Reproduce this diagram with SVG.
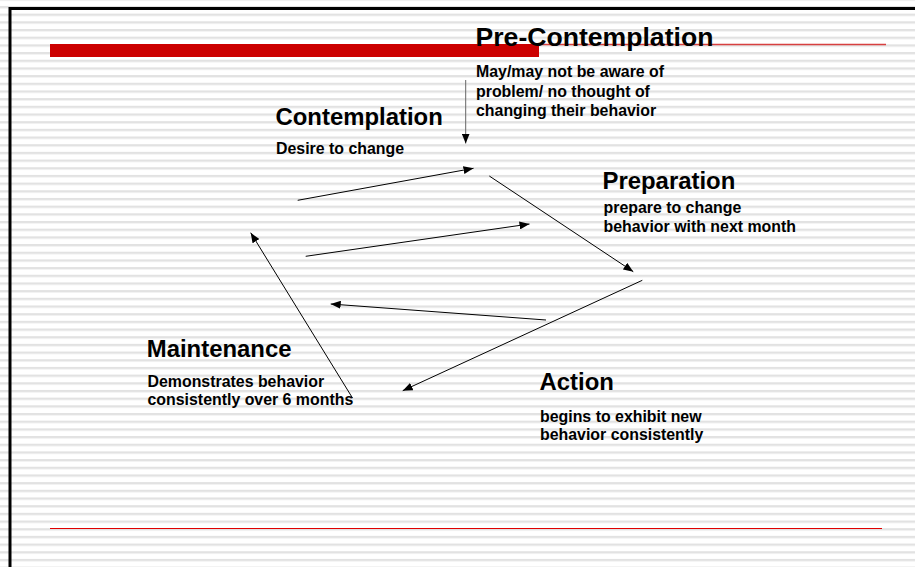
<svg xmlns="http://www.w3.org/2000/svg" width="915" height="567" viewBox="0 0 915 567">
  <defs>
    <pattern id="stripes" patternUnits="userSpaceOnUse" x="0" y="5.94" width="915" height="7.68">
      <rect x="0" y="0" width="915" height="7.68" fill="#ffffff"/>
      <rect x="0" y="0" width="915" height="2" fill="#e2e2e2"/>
      <rect x="0" y="2" width="915" height="0.8" fill="#f0f0f0"/>
    </pattern>
    <marker id="arr" markerUnits="userSpaceOnUse" markerWidth="10" markerHeight="8" refX="10" refY="4" orient="auto">
      <path d="M0,0 L10,4 L0,8 z" fill="#000"/>
    </marker>
    <style>
      .title { font-family: "Liberation Sans", Arial, sans-serif; font-weight: bold; fill: #000; }
      .h { font-size: 23.9px; }
      .hp { font-size: 26.6px; }
      .body { font-family: "Liberation Sans", Arial, sans-serif; font-weight: bold; font-size: 15.9px; fill: #000; }
      .conn { stroke: #000; stroke-width: 1; fill: none; marker-end: url(#arr); }
    </style>
  </defs>

  <rect x="0" y="0" width="915" height="567" fill="url(#stripes)"/>
  <path d="M10,567 V8.5 H915" fill="none" stroke="#000" stroke-width="3"/>

  <rect x="50" y="44" width="489" height="13" fill="#cc0000"/>
  <line x1="539" y1="44.5" x2="886" y2="44.5" stroke="#d84040" stroke-width="1.3"/>
  <line x1="50" y1="528.5" x2="882" y2="528.5" stroke="#e00000" stroke-width="1.2"/>

  <g id="connectors">
    <line class="conn" x1="465.7" y1="80" x2="465.7" y2="143.5" style="stroke:#666"/>
    <line class="conn" x1="297.7" y1="200.3" x2="473.5" y2="168.3"/>
    <line class="conn" x1="489.3" y1="176" x2="633.3" y2="271.7"/>
    <line class="conn" x1="305.7" y1="256.3" x2="529.5" y2="224"/>
    <line class="conn" x1="642.3" y1="280.3" x2="402.7" y2="390.7"/>
    <line class="conn" x1="546" y1="320" x2="330.7" y2="304"/>
    <line class="conn" x1="352.5" y1="398" x2="250.7" y2="232.7"/>
  </g>

  <g id="pre-contemplation">
    <text class="title hp" x="475.5" y="46">Pre-Contemplation</text>
    <text class="body" x="476" y="77.3">May/may not be aware of</text>
    <text class="body" x="476" y="96.7">problem/ no thought of</text>
    <text class="body" x="476" y="116">changing their behavior</text>
  </g>

  <g id="contemplation">
    <text class="title h" x="275.5" y="125">Contemplation</text>
    <text class="body" x="276" y="154.3">Desire to change</text>
  </g>

  <g id="preparation">
    <text class="title h" x="602.5" y="189.3">Preparation</text>
    <text class="body" x="603.5" y="213.3">prepare to change</text>
    <text class="body" x="603.5" y="231.7">behavior with next month</text>
  </g>

  <g id="action">
    <text class="title h" x="539.5" y="390">Action</text>
    <text class="body" x="540" y="421.7">begins to exhibit new</text>
    <text class="body" x="540" y="440">behavior consistently</text>
  </g>

  <g id="maintenance">
    <text class="title h" x="146.8" y="356.7">Maintenance</text>
    <text class="body" x="147.5" y="386.7">Demonstrates behavior</text>
    <text class="body" x="147.5" y="405">consistently over 6 months</text>
  </g>
</svg>
